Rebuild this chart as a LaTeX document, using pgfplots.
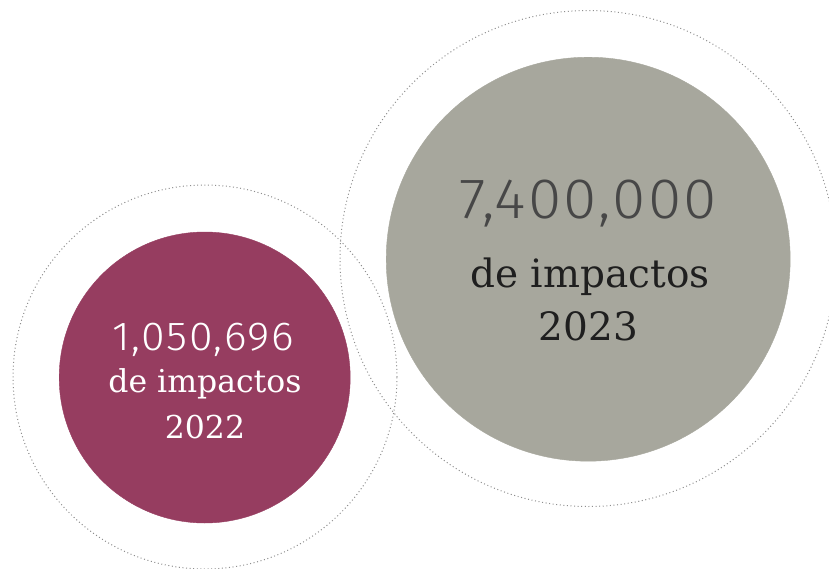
\documentclass[border=0pt]{standalone}
\usepackage{fontspec}
\setmainfont{DejaVu Serif}
\newfontfamily\numfont{Fira Sans}[UprightFont={* Light}, FakeStretch=1.06, LetterSpace=4]
\usepackage{pgfplots}
\pgfplotsset{compat=1.18}
\definecolor{mauve}{HTML}{963D60}
\definecolor{stone}{HTML}{A7A79D}
\definecolor{dotgray}{HTML}{8E8E8E}
\begin{document}
\begin{tikzpicture}
\begin{axis}[
  scale only axis, width=829bp, height=569bp,
  xmin=0, xmax=829, ymin=0, ymax=569, y dir=reverse,
  hide axis, clip=true, clip marker paths=true,
]
% outer dotted rings
\addplot[dotgray, only marks, mark=o, mark size=192bp,
  mark options={line width=1pt, dash pattern=on 1pt off 2.6pt}]
  coordinates {(205,377)};
\addplot[dotgray, only marks, mark=o, mark size=248bp,
  mark options={line width=1pt, dash pattern=on 1pt off 2.6pt}]
  coordinates {(588,258.5)};
% bubbles
\addplot[mauve, only marks, mark=*, mark size=145.5bp,
  mark options={draw=mauve, fill=mauve}]
  coordinates {(204.7,377.5)};
\addplot[stone, only marks, mark=*, mark size=202bp,
  mark options={draw=stone, fill=stone}]
  coordinates {(588.2,259.2)};
% labels
\node[anchor=base, text=white, font=\numfont\fontsize{40.5bp}{40.5bp}\selectfont] at (axis cs:203,350) {1,050,696};
\node[anchor=base, text=white, font=\fontsize{31.5bp}{31.5bp}\selectfont] at (axis cs:205,392) {de impactos};
\node[anchor=base, text=white, font=\fontsize{31.5bp}{31.5bp}\selectfont] at (axis cs:205,438) {2022};
\node[anchor=base, text=black!72, font=\numfont\fontsize{57bp}{57bp}\selectfont] at (axis cs:588.5,218) {7,400,000};
\node[anchor=base, text=black!88, font=\fontsize{39bp}{39bp}\selectfont] at (axis cs:590,287) {de impactos};
\node[anchor=base, text=black!88, font=\fontsize{39bp}{39bp}\selectfont] at (axis cs:588.5,340) {2023};
\end{axis}
\pgfresetboundingbox
\useasboundingbox (current axis.south west) rectangle (current axis.north east);
\end{tikzpicture}
\end{document}
